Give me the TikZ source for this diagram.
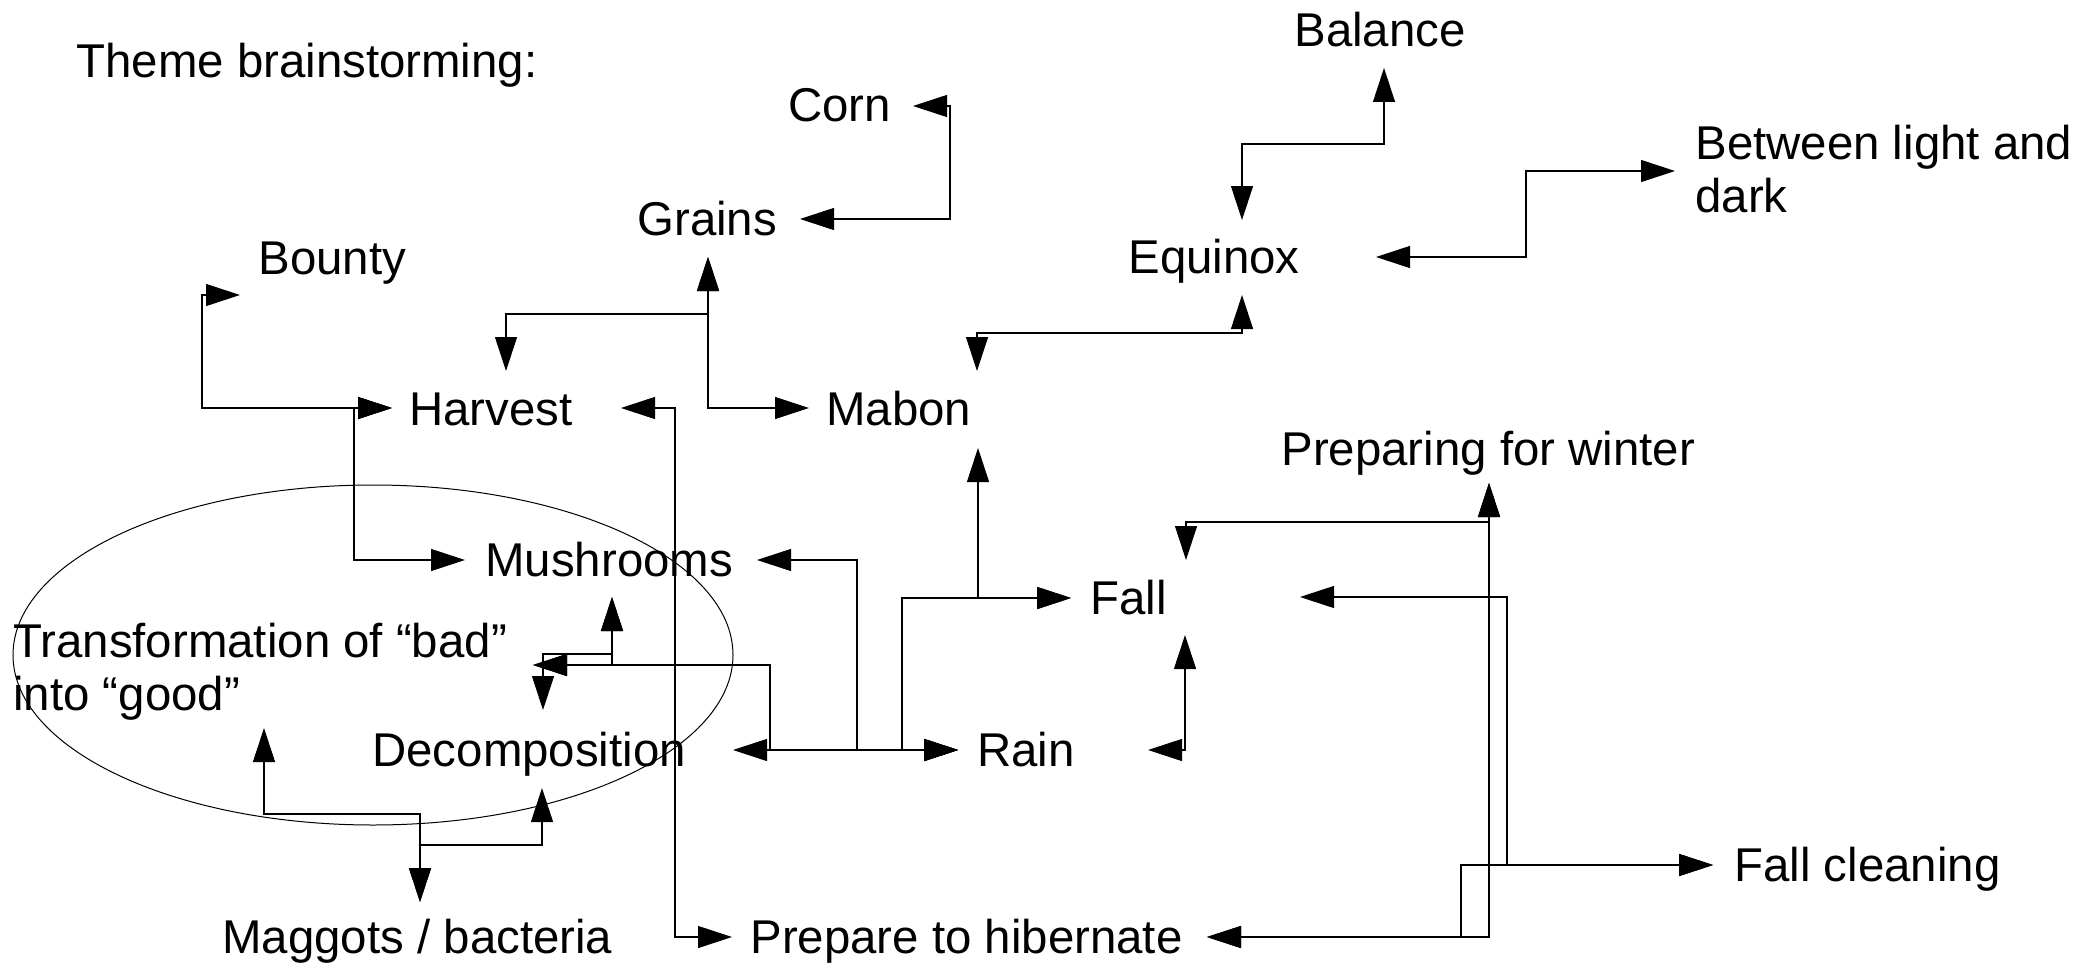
\documentclass[tikz,border=0pt]{standalone}
\usepackage{fontspec}
\setmainfont{Liberation Sans}
\usetikzlibrary{arrows.meta}
\begin{document}
\begin{tikzpicture}[x=0.5pt,y=-0.5pt,
  lbl/.style={anchor=base west, inner sep=0pt, font=\fontsize{23.7}{26.5}\selectfont},
  conn/.style={draw=black, line width=0.55pt,
    {Triangle[length=17pt,width=11pt]}-{Triangle[length=17pt,width=11pt]}},
  blob/.style={draw=black, line width=0.5pt}]
\useasboundingbox (0,0) rectangle (2082,963);

% labels
\node[lbl] (theme) at (76,78) {Theme brainstorming:};
\node[lbl] (corn) at (788,122) {Corn};
\node[lbl] (grains) at (637,235) {Grains};
\node[lbl] (bounty) at (258,274) {Bounty};
\node[lbl] (harvest) at (409,425) {Harvest};
\node[lbl] (mabon) at (826,425) {Mabon};
\node[lbl] (balance) at (1294,47) {Balance};
\node[lbl] (between) at (1695,160) {\begin{tabular}[t]{@{}l@{}}Between light and\\dark\end{tabular}};
\node[lbl] (equinox) at (1128,273) {Equinox};
\node[lbl] (prepwinter) at (1281,465) {Preparing for winter};
\node[lbl] (mush) at (485,576) {Mushrooms};
\node[lbl] (transf) at (13,657) {\begin{tabular}[t]{@{}l@{}}Transformation of “bad”\\into “good”\end{tabular}};
\node[lbl] (decomp) at (372,766) {Decomposition};
\node[lbl] (maggots) at (222,953) {Maggots / bacteria};
\node[lbl] (hibernate) at (750,953) {Prepare to hibernate};
\node[lbl] (rain) at (977,766) {Rain};
\node[lbl] (fall) at (1090,614) {Fall};
\node[lbl] (fallclean) at (1734,881) {Fall cleaning};

% ellipse
\draw[blob] (373,655) ellipse [x radius=180pt, y radius=85pt];

% connector end points
\coordinate (cornE) at (913,106);
\coordinate (grainsE) at (800,219);
\coordinate (grainsS) at (708,257);
\coordinate (harvestN) at (506,371);
\coordinate (harvestW) at (392,408);
\coordinate (harvestE) at (621,408);
\coordinate (bountyW) at (240,295);
\coordinate (mabonW) at (809,408);
\coordinate (mabonN) at (977,371);
\coordinate (mabonS) at (978,448);
\coordinate (eqS) at (1242,295);
\coordinate (eqN) at (1242,220);
\coordinate (eqE) at (1376,257);
\coordinate (balS) at (1384,68);
\coordinate (betW) at (1675,171);
\coordinate (mushW) at (465,560);
\coordinate (mushE) at (757,560);
\coordinate (mushS) at (612,597);
\coordinate (transE) at (533,665);
\coordinate (transS) at (264,728);
\coordinate (decN) at (543,710);
\coordinate (decE) at (733,750);
\coordinate (decS) at (542,788);
\coordinate (magN) at (420,902);
\coordinate (hibW) at (732,937);
\coordinate (hibE) at (1207,937);
\coordinate (rainW) at (958,750);
\coordinate (rainE) at (1148,750);
\coordinate (fallW) at (1071,598);
\coordinate (fallE) at (1300,597);
\coordinate (fallN) at (1186,560);
\coordinate (fallS) at (1185,635);
\coordinate (prepwS) at (1489,483);
\coordinate (fclW) at (1713,865);

% connectors
\draw[conn] (cornE) -| (950,219) -- (grainsE);
\draw[conn] (grainsS) |- (mabonW);
\draw[conn] (grainsS) -- (708,314) -| (harvestN);
\draw[conn] (bountyW) -| (202,408) -- (harvestW);
\draw[conn] (harvestW) -| (354,560) -- (mushW);
\draw[conn] (harvestE) -| (675,937) -- (hibW);
\draw[conn] (mabonN) -- (977,333) -| (eqS);
\draw[conn] (eqN) -- (1242,144) -| (balS);
\draw[conn] (eqE) -| (1526,171) -- (betW);
\draw[conn] (mabonS) |- (fallW);
\draw[conn] (decE) -- (rainW);
\draw[conn] (mushE) -| (857,750) -- (rainW);
\draw[conn] (fallW) -| (902,750) -- (rainW);
\draw[conn] (transE) -| (770,750) -- (rainW);
\draw[conn] (transE) -| (mushS);
\draw[conn] (mushS) -- (612,654) -| (decN);
\draw[conn] (transS) -- (264,814) -| (magN);
\draw[conn] (decS) -- (542,845) -| (magN);
\draw[conn] (rainE) -| (fallS);
\draw[conn] (fallN) -- (1186,522) -| (prepwS);
\draw[conn] (hibE) -| (prepwS);
\draw[conn] (hibE) -| (1461,865) -- (fclW);
\draw[conn] (fallE) -| (1507,865) -- (fclW);
\end{tikzpicture}
\end{document}
